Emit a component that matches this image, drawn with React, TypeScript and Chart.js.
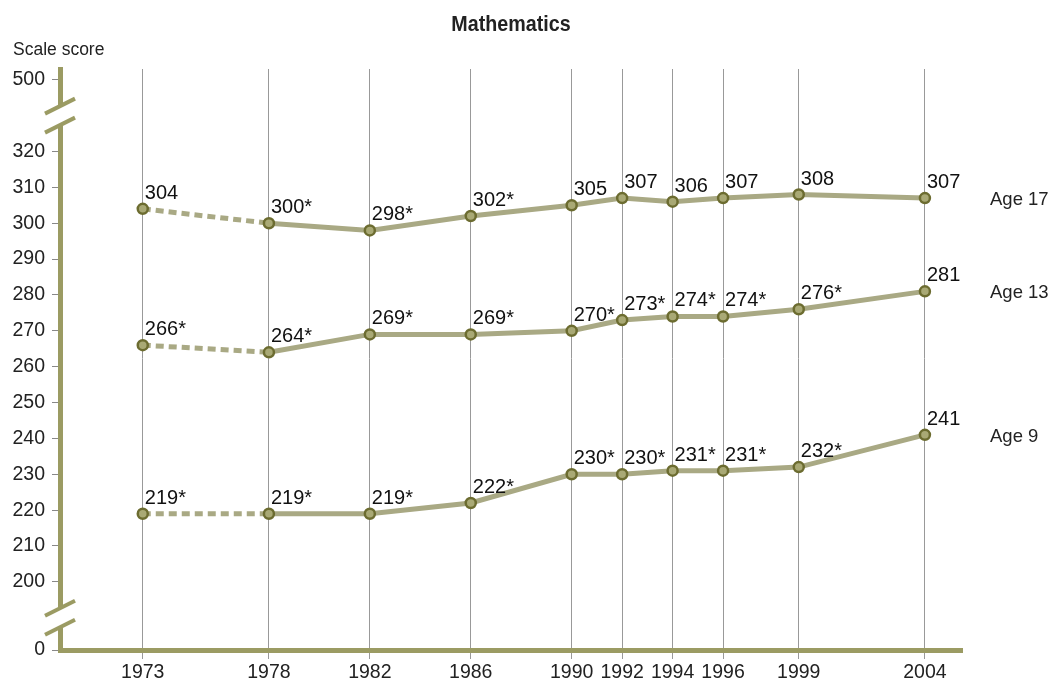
import React, { useEffect, useRef } from "react";
import { Chart, registerables } from "chart.js";

Chart.register(...registerables);

const years = [1973, 1978, 1982, 1986, 1990, 1992, 1994, 1996, 1999, 2004];
const age17 = [304, 300, 298, 302, 305, 307, 306, 307, 308, 307];
const age13 = [266, 264, 269, 269, 270, 273, 274, 274, 276, 281];
const age9 = [219, 219, 219, 222, 230, 230, 231, 231, 232, 241];
const age17Labels = ["304", "300*", "298*", "302*", "305", "307", "306", "307", "308", "307"];
const age13Labels = ["266*", "264*", "269*", "269*", "270*", "273*", "274*", "274*", "276*", "281"];
const age9Labels = ["219*", "219*", "219*", "222*", "230*", "230*", "231*", "231*", "232*", "241"];
const seriesNames = ["Age 17", "Age 13", "Age 9"];

// y axis is broken: value 181 stands for "0", value 340 stands for "500"
const yTickValues = [181, 200, 210, 220, 230, 240, 250, 260, 270, 280, 290, 300, 310, 320, 340];
const yTickLabels = ["0", "200", "210", "220", "230", "240", "250", "260", "270", "280", "290", "300", "310", "320", "500"];
const yBreakValues = [190, 330];

const title = "Mathematics";
const yTitle = "Scale score";

const FONT = "'Liberation Sans', Arial, sans-serif";
const LINE = "#a9a984";
const AXIS = "#9b9b63";
const MARK_BORDER = "#6c6c30";
const MARK_FILL = "#a9a975";

export default function App() {
  const ref = useRef<HTMLCanvasElement | null>(null);

  useEffect(() => {
    document.body.style.margin = "0";
    const canvas = ref.current;
    if (!canvas) return;

    const allLabels = [age17Labels, age13Labels, age9Labels];

    const overlay = {
      id: "overlay",
      afterDatasetsDraw(chart: any) {
        const ctx = chart.ctx;
        ctx.save();
        ctx.fillStyle = "#111";
        ctx.font = `20px ${FONT}`;
        ctx.textAlign = "left";
        ctx.textBaseline = "alphabetic";
        chart.data.datasets.forEach((ds: any, i: number) => {
          const meta = chart.getDatasetMeta(i);
          meta.data.forEach((pt: any, j: number) => {
            ctx.fillText(allLabels[i][j], pt.x + 2, pt.y - 10);
          });
        });
        ctx.restore();
      },
      afterDraw(chart: any) {
        const ctx = chart.ctx;
        const ys = chart.scales.y;
        const xs = chart.scales.x;
        const ca = chart.chartArea;
        ctx.save();
        // axis breaks
        const ax = ys.right;
        yBreakValues.forEach((v) => {
          const cy = ys.getPixelForValue(v);
          const half = 9.5;
          const slope = 0.5;
          const yAt = (x: number, off: number) => cy + off - (x - ax) * slope;
          ctx.fillStyle = "#fff";
          ctx.beginPath();
          ctx.moveTo(ax - 5, yAt(ax - 5, -half));
          ctx.lineTo(ax + 5, yAt(ax + 5, -half));
          ctx.lineTo(ax + 5, yAt(ax + 5, half));
          ctx.lineTo(ax - 5, yAt(ax - 5, half));
          ctx.closePath();
          ctx.fill();
          ctx.strokeStyle = AXIS;
          ctx.lineWidth = 4;
          [-half, half].forEach((off) => {
            ctx.beginPath();
            ctx.moveTo(ax - 15, yAt(ax - 15, off));
            ctx.lineTo(ax + 15, yAt(ax + 15, off));
            ctx.stroke();
          });
        });
        // title
        ctx.fillStyle = "#222";
        ctx.textBaseline = "alphabetic";
        ctx.save();
        ctx.translate((ca.left + ca.right) / 2, 31);
        ctx.scale(0.895, 1);
        ctx.font = `bold 22px ${FONT}`;
        ctx.textAlign = "center";
        ctx.fillText(title, 0, 0);
        ctx.restore();
        // y title
        ctx.font = `17.5px ${FONT}`;
        ctx.textAlign = "left";
        ctx.fillText(yTitle, 13, 55);
        // series names
        ctx.font = `18.5px ${FONT}`;
        ctx.textBaseline = "middle";
        const lasts = [age17, age13, age9];
        lasts.forEach((arr, i) => {
          const y = ys.getPixelForValue(arr[arr.length - 1]) + 2;
          ctx.fillText(seriesNames[i], xs.right + 28, y);
        });
        ctx.restore();
      },
    };

    const mk = (vals: number[]) => years.map((y, i) => ({ x: y, y: vals[i] }));
    const dsBase = {
      borderColor: LINE,
      borderWidth: 5,
      pointRadius: 5,
      pointBorderWidth: 2.5,
      pointBorderColor: MARK_BORDER,
      pointBackgroundColor: MARK_FILL,
      tension: 0,
      segment: {
        borderDash: (c: any) => (c.p0DataIndex === 0 ? [8, 5] : undefined),
      },
    };

    const chart = new Chart(canvas, {
      type: "line",
      data: {
        datasets: [
          { label: seriesNames[0], data: mk(age17), ...dsBase },
          { label: seriesNames[1], data: mk(age13), ...dsBase },
          { label: seriesNames[2], data: mk(age9), ...dsBase },
        ],
      },
      options: {
        responsive: false,
        animation: false,
        devicePixelRatio: 1,
        layout: { padding: { top: 69, right: 100, bottom: 0, left: 0 } },
        plugins: { legend: { display: false }, tooltip: { enabled: false } },
        scales: {
          x: {
            type: "linear",
            position: "bottom",
            min: 1969.72,
            max: 2005.47,
            afterBuildTicks: (s: any) => {
              s.ticks = years.map((v) => ({ value: v }));
            },
            afterFit: (s: any) => {
              s.height = 31;
            },
            ticks: {
              color: "#222",
              font: { family: FONT, size: 19.5 },
              padding: 2,
              maxRotation: 0,
              autoSkip: false,
              callback: (v: any) => String(v),
            },
            grid: {
              color: "#999",
              lineWidth: 1,
              drawTicks: true,
              tickLength: 9,
            },
            border: { color: AXIS, width: 5 },
          },
          y: {
            type: "linear",
            min: 181,
            max: 343,
            afterBuildTicks: (s: any) => {
              s.ticks = yTickValues.map((v) => ({ value: v }));
            },
            afterFit: (s: any) => {
              s.width = 60;
            },
            ticks: {
              color: "#222",
              font: { family: FONT, size: 19.5 },
              padding: 7,
              autoSkip: false,
              callback: (v: any) => {
                const i = yTickValues.indexOf(Number(v));
                return i >= 0 ? yTickLabels[i] : "";
              },
            },
            grid: {
              drawOnChartArea: false,
              drawTicks: true,
              tickLength: 8,
              color: "#888",
              lineWidth: 1,
            },
            border: { color: AXIS, width: 5 },
          },
        },
      },
      plugins: [overlay],
    });

    return () => chart.destroy();
  }, []);

  return <canvas ref={ref} width={1062} height={681} style={{ display: "block" }} />;
}
